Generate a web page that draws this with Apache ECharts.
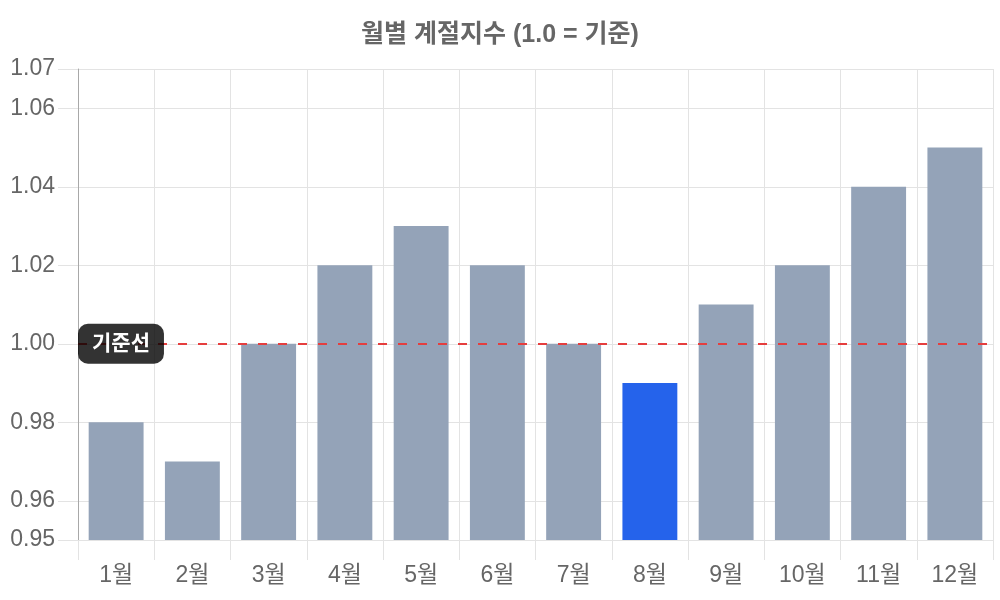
<!DOCTYPE html>
<html>
<head>
<meta charset="utf-8">
<script src="https://cdn.jsdelivr.net/npm/echarts@6/dist/echarts.min.js"></script>
<style>
html,body{margin:0;padding:0;background:#fff;}
#chart{width:1000px;height:600px;}
</style>
</head>
<body>
<div id="chart"></div>
<script>
const months = ['1월','2월','3월','4월','5월','6월','7월','8월','9월','10월','11월','12월'];
const seasonalIndex = [0.98, 0.97, 1.00, 1.02, 1.03, 1.02, 1.00, 0.99, 1.01, 1.02, 1.04, 1.05];
const highlightMonth = '8월';
const yTicks = [0.95, 0.96, 0.98, 1.00, 1.02, 1.04, 1.06, 1.07];
const baseline = 1.00;
const baselineLabel = '기준선';
const titleText = '월별 계절지수 (1.0 = 기준)';

const FONT = "'Liberation Sans', 'Noto Sans CJK KR', sans-serif";
const gridColor = '#e3e3e3';

const chart = echarts.init(document.getElementById('chart'));
chart.setOption({
  animation: false,
  textStyle: { fontFamily: FONT },
  title: {
    text: titleText,
    left: 'center',
    top: 18,
    textStyle: { fontFamily: FONT, fontSize: 25, fontWeight: 'bold', color: '#666' }
  },
  grid: { left: 78, right: 7, top: 69, bottom: 60, containLabel: false },
  xAxis: {
    type: 'category',
    data: months,
    boundaryGap: true,
    axisLine: { show: true, lineStyle: { color: gridColor } },
    axisTick: { show: true, length: 20, alignWithLabel: false, lineStyle: { color: gridColor } },
    axisLabel: { margin: 24, fontSize: 23, color: '#666', fontFamily: FONT, interval: 0 },
    splitLine: { show: true, lineStyle: { color: gridColor } }
  },
  yAxis: {
    type: 'value',
    min: 0.95,
    max: 1.07,
    interval: 0.01,
    axisLine: { show: true, lineStyle: { color: '#a8a8a8' } },
    axisTick: { show: true, length: 20, customValues: yTicks, lineStyle: { color: gridColor } },
    axisLabel: { margin: 23, fontSize: 23, color: '#666', fontFamily: FONT, customValues: yTicks,
      formatter: v => Number(v).toFixed(2) },
    splitLine: { show: true, customValues: yTicks, lineStyle: { color: gridColor } }
  },
  series: [{
    type: 'bar',
    barWidth: '72%',
    data: seasonalIndex.map((v, i) => ({
      value: v,
      itemStyle: { color: months[i] === highlightMonth ? '#2563eb' : '#94a3b8' }
    })),
    markLine: {
      silent: true,
      symbol: 'none',
      lineStyle: { color: '#e53e3e', type: [9, 11], width: 2 },
      label: {
        show: true,
        position: 'insideStart',
        distance: [0, 0],
        formatter: baselineLabel,
        color: '#fff',
        fontWeight: 'bold',
        fontSize: 21,
        fontFamily: FONT,
        backgroundColor: 'rgba(0,0,0,0.8)',
        padding: [10, 14, 9, 14],
        borderRadius: 10
      },
      data: [{ yAxis: baseline }]
    }
  }]
});
</script>
</body>
</html>
